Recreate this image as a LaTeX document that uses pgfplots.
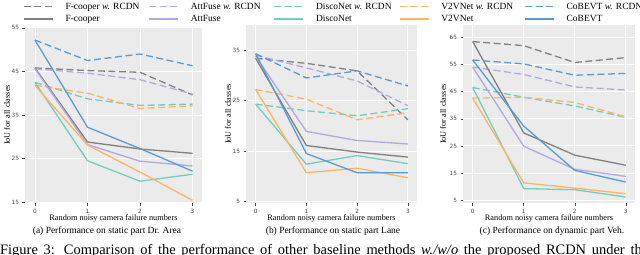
\documentclass[border=0pt]{standalone}
\usepackage{pgfplots}
\pgfplotsset{compat=1.18}
\usepackage{fontspec}
\setmainfont{Liberation Serif}
\newfontfamily\tickfont{DejaVu Sans}
\definecolor{bgc}{RGB}{235,235,235}
\definecolor{tickc}{RGB}{70,70,70}
\definecolor{cfc}{RGB}{128,128,128}
\definecolor{caf}{RGB}{178,168,226}
\definecolor{cdn}{RGB}{115,205,190}
\definecolor{cvv}{RGB}{255,180,100}
\definecolor{ccb}{RGB}{90,155,210}
\tikzset{dsh/.style={dash pattern=on 7bp off 3.5bp}}
\pgfplotsset{
  panel/.style={
    scale only axis,
    axis background/.style={fill=bgc},
    axis line style={draw=none},
    grid=major,
    major grid style={white, line width=0.9bp},
    tick style={draw=tickc, line width=0.5bp},
    major tick length=2.5bp,
    tick align=outside,
    xtick pos=bottom, ytick pos=left,
    xtick={0,1,2,3},
    xticklabels={0,1,2,3},
    ticklabel style={font=\tickfont\fontsize{5.8}{6}\selectfont, text=tickc},
    every axis x label/.style={at={(axis description cs:0.5,0)}, anchor=north, yshift=-8.5bp,
      font=\fontsize{8.3}{9}\selectfont},
    every axis y label/.style={at={(axis description cs:0,0.5)}, xshift=-18bp, rotate=90, anchor=center,
      font=\fontsize{8.3}{9}\selectfont},
    xlabel={Random noisy camera failure numbers},
    ylabel={IoU for all classes},
    every axis plot/.append style={line width=1.3bp, mark=none},
    xmin=-0.19, xmax=3.18,
    clip=false,
  },
}
\begin{document}
\begin{tikzpicture}
\useasboundingbox (0,0) rectangle (640bp,-255bp);
\clip (0,0) rectangle (640bp,-255bp);
% panel (a)
\begin{axis}[panel, at={(25bp,-203bp)}, anchor=south west, width=177bp, height=176bp,
  ymin=14.8, ymax=55.2, ytick={15,25,35,45,55}, yticklabels={15,25,35,45,55},
  legend columns=5,
  legend image code/.code={\draw[line width=1.3bp,#1] (0bp,0bp) -- (29bp,0bp); \path (0bp,0bp) (39bp,0bp);},
  legend style={at={(axis description cs:-0.011,1.153)}, anchor=north west, draw=none, fill=none,
    font=\fontsize{9.5}{10}\selectfont, inner sep=0pt, column sep=0pt, row sep=0pt},
  legend cell align=left]
\addlegendimage{cfc, dsh}
\addlegendentry{\makebox[81bp][l]{\strut F-cooper \textit{w.} RCDN}}
\addlegendimage{caf, dsh}
\addlegendentry{\makebox[81bp][l]{\strut AttFuse \textit{w.} RCDN}}
\addlegendimage{cdn, dsh}
\addlegendentry{\makebox[81bp][l]{\strut DiscoNet \textit{w.} RCDN}}
\addlegendimage{cvv, dsh}
\addlegendentry{\makebox[81bp][l]{\strut V2VNet \textit{w.} RCDN}}
\addlegendimage{ccb, dsh}
\addlegendentry{\makebox[81bp][l]{\strut CoBEVT \textit{w.} RCDN}}
\addlegendimage{cfc}
\addlegendentry{\makebox[81bp][l]{\strut F-cooper}}
\addlegendimage{caf}
\addlegendentry{\makebox[81bp][l]{\strut AttFuse}}
\addlegendimage{cdn}
\addlegendentry{\makebox[81bp][l]{\strut DiscoNet}}
\addlegendimage{cvv}
\addlegendentry{\makebox[81bp][l]{\strut V2VNet}}
\addlegendimage{ccb}
\addlegendentry{\makebox[81bp][l]{\strut CoBEVT}}
\addplot[cfc, dsh, forget plot] coordinates {(0,45.8)(1,45.2)(2,44.8)(3,39.6)};
\addplot[caf, dsh, forget plot] coordinates {(0,45.6)(1,44.6)(2,43.1)(3,39.8)};
\addplot[cdn, dsh, forget plot] coordinates {(0,42.5)(1,38.7)(2,37.2)(3,37.5)};
\addplot[cvv, dsh, forget plot] coordinates {(0,41.8)(1,40.0)(2,36.5)(3,37.1)};
\addplot[ccb, dsh, forget plot] coordinates {(0,52.2)(1,47.5)(2,49.0)(3,46.3)};
\addplot[cfc, forget plot] coordinates {(0,45.8)(1,28.8)(2,27.2)(3,26.2)};
\addplot[caf, forget plot] coordinates {(0,45.6)(1,28.2)(2,24.4)(3,23.3)};
\addplot[cdn, forget plot] coordinates {(0,42.5)(1,24.5)(2,19.8)(3,21.4)};
\addplot[cvv, forget plot] coordinates {(0,41.8)(1,28.1)(2,21.9)(3,15.4)};
\addplot[ccb, forget plot] coordinates {(0,52.2)(1,32.2)(2,27.3)(3,22.1)};
\end{axis}
% panel (b)
\begin{axis}[panel, at={(246bp,-203bp)}, anchor=south west, width=171bp, height=178bp,
  ymin=4.7, ymax=40, ytick={5,15,25,35}, yticklabels={5,15,25,35}]
\addplot[cfc, dsh] coordinates {(0,33.4)(1,32.4)(2,30.9)(3,21.2)};
\addplot[caf, dsh] coordinates {(0,34.0)(1,31.5)(2,28.9)(3,24.0)};
\addplot[cdn, dsh] coordinates {(0,24.3)(1,23.0)(2,22.0)(3,23.4)};
\addplot[cvv, dsh] coordinates {(0,27.2)(1,25.3)(2,21.2)(3,22.6)};
\addplot[ccb, dsh] coordinates {(0,34.3)(1,29.5)(2,30.9)(3,27.9)};
\addplot[cfc] coordinates {(0,33.4)(1,16.1)(2,14.8)(3,13.8)};
\addplot[caf] coordinates {(0,33.8)(1,18.9)(2,17.1)(3,16.4)};
\addplot[cdn] coordinates {(0,24.3)(1,12.4)(2,14.1)(3,12.5)};
\addplot[cvv] coordinates {(0,27.2)(1,10.7)(2,11.6)(3,9.7)};
\addplot[ccb] coordinates {(0,34.3)(1,14.5)(2,10.7)(3,10.7)};
\end{axis}
% panel (c)
\begin{axis}[panel, at={(463bp,-203bp)}, anchor=south west, width=172bp, height=178bp,
  every axis y label/.style={at={(axis description cs:0,0.5)}, xshift=-20bp, rotate=90, anchor=center,
      font=\fontsize{8.3}{9}\selectfont},
  ymin=4, ymax=69.5, ytick={5,15,25,35,45,55,65}, yticklabels={5,15,25,35,45,55,65}]
\addplot[cfc, dsh] coordinates {(0,63.4)(1,61.9)(2,55.7)(3,57.5)};
\addplot[caf, dsh] coordinates {(0,54.0)(1,51.3)(2,46.7)(3,45.6)};
\addplot[cdn, dsh] coordinates {(0,46.5)(1,42.9)(2,39.7)(3,35.5)};
\addplot[cvv, dsh] coordinates {(0,42.6)(1,42.9)(2,41.0)(3,35.7)};
\addplot[ccb, dsh] coordinates {(0,56.6)(1,55.2)(2,51.0)(3,51.7)};
\addplot[cfc] coordinates {(0,63.4)(1,29.8)(2,21.6)(3,17.9)};
\addplot[caf] coordinates {(0,54.0)(1,24.9)(2,16.4)(3,13.8)};
\addplot[cdn] coordinates {(0,46.5)(1,9.3)(2,8.9)(3,6.2)};
\addplot[cvv] coordinates {(0,42.6)(1,11.4)(2,9.5)(3,7.4)};
\addplot[ccb] coordinates {(0,56.6)(1,32.3)(2,16.0)(3,11.7)};
\end{axis}
\node[font=\fontsize{9.5}{10}\selectfont] at (107bp,-231bp) {(a) Performance on static part Dr. Area};
\node[font=\fontsize{9.5}{10}\selectfont] at (333bp,-231bp) {(b) Performance on static part Lane};
\node[font=\fontsize{9.5}{10}\selectfont] at (552bp,-231bp) {(c) Performance on dynamic part Veh.};
\node[font=\fontsize{14.5}{16}\selectfont, anchor=base west, inner sep=0pt] at (0bp,-254bp)
  {\makebox[648bp][s]{Figure 3: Comparison of the performance of other baseline methods \textit{w./w/o} the proposed RCDN under the}};
\end{tikzpicture}
\end{document}
